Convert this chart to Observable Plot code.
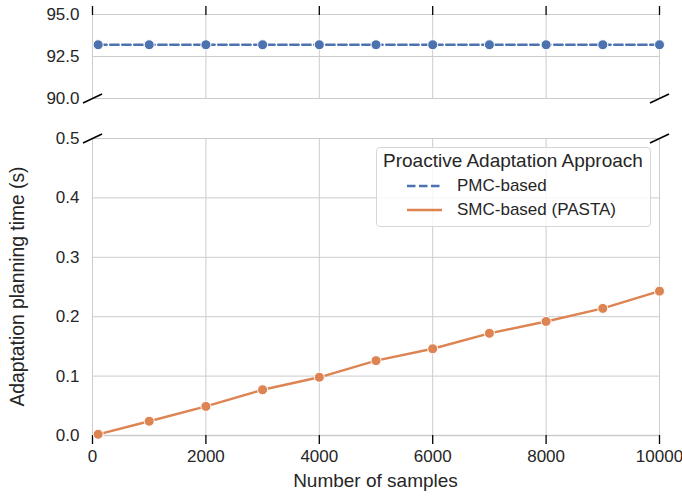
<!DOCTYPE html>
<html>
<head>
<meta charset="utf-8">
<script src="https://cdn.jsdelivr.net/npm/d3@7"></script>
<script src="https://cdn.jsdelivr.net/npm/@observablehq/plot@0.6"></script>
<style>
  html, body { margin: 0; padding: 0; background: #fff; }
  #wrap { position: relative; width: 682px; height: 496px; font-family: "Liberation Sans", Arial, sans-serif; }
  #legend {
    position: absolute; left: 376px; top: 147px; width: 275px; height: 80px;
    background: rgba(255,255,255,0.8); border: 1px solid #d6d6d6; border-radius: 4px;
    color: #262626; box-sizing: border-box;
  }
  #legend .title { position: absolute; left: 6px; top: 3px; font-size: 19px; line-height: 20px; white-space: nowrap; }
  #legend .item { position: absolute; left: 30px; font-size: 17px; line-height: 18px; white-space: nowrap; display: flex; align-items: center; }
  #legend .item svg { margin-right: 15px; }
</style>
</head>
<body>
<div id="wrap"></div>
<script>
const samples = [100, 1000, 2000, 3000, 4000, 5000, 6000, 7000, 8000, 9000, 10000];
const pmcTime = [93.2, 93.2, 93.2, 93.2, 93.2, 93.2, 93.2, 93.2, 93.2, 93.2, 93.2];
const smcTime = [0.002, 0.024, 0.049, 0.077, 0.098, 0.126, 0.146, 0.172, 0.192, 0.214, 0.243];
const xTicks = [0, 2000, 4000, 6000, 8000, 10000];
const yTicksLow = [0, 0.1, 0.2, 0.3, 0.4, 0.5];
const yTicksHigh = [90, 92.5, 95];
const seriesNames = ["PMC-based", "SMC-based (PASTA)"];
const colors = ["#4c72b0", "#dd8452"];

const pmc = samples.map((s, i) => ({x: s, y: pmcTime[i]}));
const smc = samples.map((s, i) => ({x: s, y: smcTime[i]}));

const W = 682, H = 496, mL = 92, mR = 23, mT = 14, mB = 61;
const grid = "#cccccc";
const ink = "#262626";

// broken y axis: lower panel [0, 0.5], gap, upper panel [90, 95]
const lowSpan = 297, gapSpan = 40, highSpan = 84;
const brk = v => v <= 0.5 ? v / 0.5 * lowSpan : lowSpan + gapSpan + (v - 90) / 5 * highSpan;

const chart = Plot.plot({
  width: W, height: H,
  marginLeft: mL, marginRight: mR, marginTop: mT, marginBottom: mB,
  style: {fontFamily: '"Liberation Sans", Arial, sans-serif', fontSize: "17px", color: ink, background: "#fff"},
  x: {domain: [0, 10000]},
  y: {transform: brk, domain: [0, lowSpan + gapSpan + highSpan]},
  marks: [
    Plot.ruleY(yTicksLow.concat(yTicksHigh), {stroke: grid, strokeWidth: 1}),
    Plot.ruleX(xTicks, {y1: 90, y2: 95, stroke: grid, strokeWidth: 1}),
    Plot.ruleX(xTicks, {y1: 0, y2: 0.5, stroke: grid, strokeWidth: 1}),
    Plot.ruleY([0], {stroke: grid, strokeWidth: 1.6}),
    Plot.axisY(yTicksLow.concat(yTicksHigh), {tickSize: 0, tickPadding: 13, tickFormat: d3.format(".1f"), fontSize: 17, color: ink, label: null}),
    Plot.axisX(xTicks, {anchor: "bottom", tickSize: 9, tickPadding: 5, tickFormat: d3.format("d"), stroke: "#000", strokeWidth: 1.3, fontSize: 17, color: ink, label: null}),
    Plot.axisX(xTicks, {anchor: "top", tickSize: 9, tickFormat: () => "", stroke: "#000", strokeWidth: 1.3, label: null}),
    Plot.line(pmc, {x: "x", y: "y", stroke: colors[0], strokeWidth: 2.4, strokeDasharray: "8.5,3.5"}),
    Plot.dot(pmc, {x: "x", y: "y", r: 5, fill: colors[0], stroke: "#fff", strokeWidth: 1}),
    Plot.line(smc, {x: "x", y: "y", stroke: colors[1], strokeWidth: 2.4}),
    Plot.dot(smc, {x: "x", y: "y", r: 5, fill: colors[1], stroke: "#fff", strokeWidth: 1})
  ]
});

// broken-axis diagonal marks and axis titles, positioned through the plot's scales
const sx = chart.scale("x"), sy = chart.scale("y");
const svg = d3.select(chart);
const xs = [sx.apply(0), sx.apply(10000)];
const ys = [sy.apply(brk(90)), sy.apply(brk(0.5))];
for (const px of xs) for (const py of ys) {
  svg.append("line").attr("x1", px - 9).attr("y1", py + 5).attr("x2", px + 10).attr("y2", py - 4)
    .attr("stroke", "#000").attr("stroke-width", 1.4);
}
svg.append("text").text("Number of samples")
  .attr("x", (sx.apply(0) + sx.apply(10000)) / 2).attr("y", 487)
  .attr("text-anchor", "middle").attr("font-size", 19).attr("fill", ink);
svg.append("text").text("Adaptation planning time (s)")
  .attr("transform", `translate(23.5,${(sy.apply(brk(0)) + sy.apply(brk(0.5))) / 2}) rotate(-90)`)
  .attr("text-anchor", "middle").attr("font-size", 19.3).attr("fill", ink);

const wrap = document.getElementById("wrap");
wrap.appendChild(chart);

// legend
const leg = document.createElement("div");
leg.id = "legend";
leg.innerHTML = `<div class="title">Proactive Adaptation Approach</div>` +
  seriesNames.map((n, i) => `<div class="item" style="top:${i === 0 ? 29 : 53}px"><svg width="35" height="10"><line x1="0" y1="5" x2="35" y2="5" stroke="${colors[i]}" stroke-width="2.4" ${i === 0 ? 'stroke-dasharray="8.5,3.5"' : ''}/></svg>${n}</div>`).join("");
wrap.appendChild(leg);
</script>
</body>
</html>
